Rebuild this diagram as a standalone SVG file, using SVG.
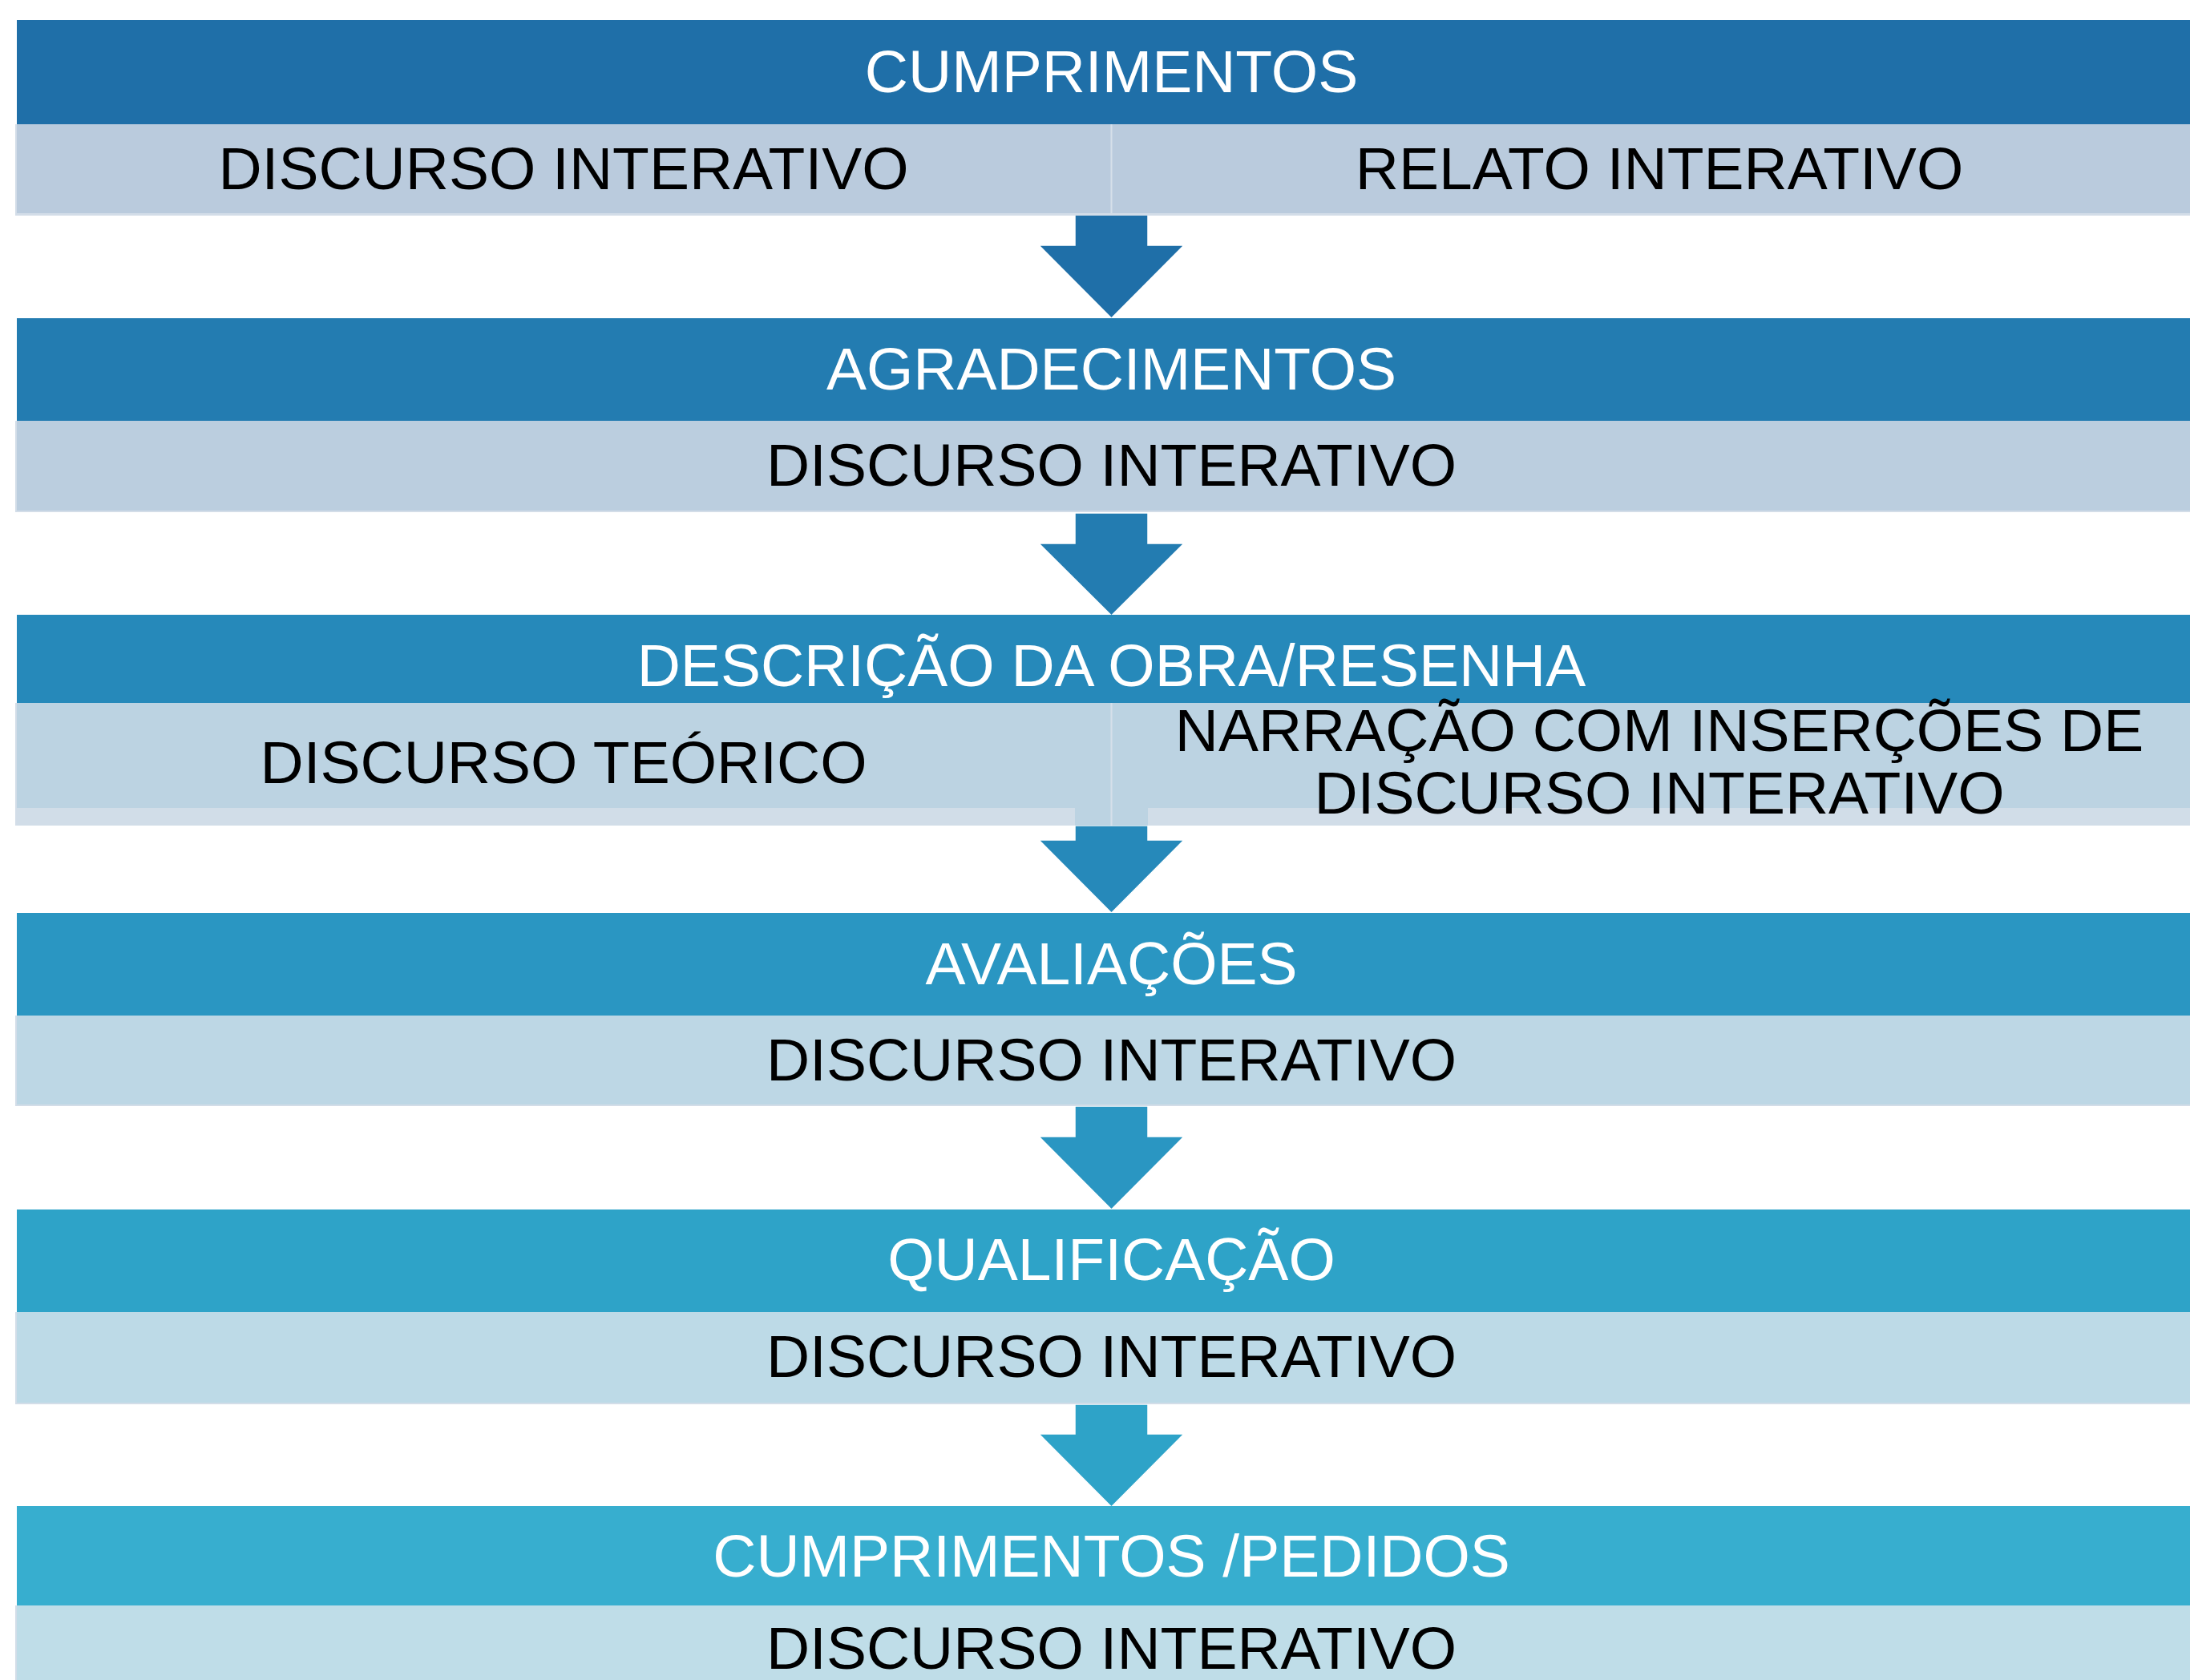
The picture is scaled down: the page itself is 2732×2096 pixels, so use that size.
<svg xmlns="http://www.w3.org/2000/svg" width="2732" height="2096" viewBox="0 0 2732 2096">
<style>
text{font-family:"Liberation Sans",Arial,sans-serif;font-size:75px;text-anchor:middle}
.h{fill:#ffffff}
.b{fill:#000000}
.div{stroke:#D6E0EA;stroke-width:2}
.arr{stroke:#ffffff;stroke-width:1.5}
.edge{fill:#D3DDE8}
</style>
<rect width="2732" height="2096" fill="#ffffff"/>
<g id="connectors">
<polygon class="arr" fill="#1F6FA8" points="1341,268 1432,268 1432,306 1477,306 1386.5,397 1296,306 1341,306"/>
<polygon class="arr" fill="#237CB1" points="1341,640 1432,640 1432,678 1477,678 1386.5,768 1296,678 1341,678"/>
<polygon class="arr" fill="#2689BA" points="1341,1030 1432,1030 1432,1048 1477,1048 1386.5,1139 1296,1048 1341,1048"/>
<polygon class="arr" fill="#2A96C2" points="1341,1380 1432,1380 1432,1418 1477,1418 1386.5,1509 1296,1418 1341,1418"/>
<polygon class="arr" fill="#2EA3C8" points="1341,1752 1432,1752 1432,1789 1477,1789 1386.5,1880 1296,1789 1341,1789"/>
</g>
<g id="node-cumprimentos">
<rect x="21" y="25" width="2740" height="130" fill="#1F6FA8"/>
<rect x="19" y="155" width="2742" height="111" fill="#BACBDD"/>
<rect class="edge" x="19" y="266" width="2742" height="3"/>
<rect class="edge" x="19" y="155" width="2" height="114"/>
<line class="div" x1="1386.5" y1="155" x2="1386.5" y2="266"/>
<text class="h" x="1386.5" y="115">CUMPRIMENTOS</text>
<text class="b" x="703" y="236">DISCURSO INTERATIVO</text>
<text class="b" x="2070" y="236">RELATO INTERATIVO</text>
</g>
<g id="node-agradecimentos">
<rect x="21" y="397" width="2740" height="128" fill="#237CB1"/>
<rect x="19" y="525" width="2742" height="113" fill="#BBCEDF"/>
<rect class="edge" x="19" y="637" width="2742" height="2"/>
<rect class="edge" x="19" y="525" width="2" height="114"/>
<text class="h" x="1386.5" y="486">AGRADECIMENTOS</text>
<text class="b" x="1386.5" y="606">DISCURSO INTERATIVO</text>
</g>
<g id="node-descricao">
<rect x="21" y="767" width="2740" height="110" fill="#2689BA"/>
<rect x="19" y="877" width="2742" height="153" fill="#BCD3E2"/>
<rect x="19" y="1008" width="1322" height="22" fill="#D1DDE8"/>
<rect x="1432" y="1008" width="1329" height="22" fill="#D1DDE8"/>
<rect class="edge" x="19" y="877" width="2" height="153"/>
<line class="div" x1="1386.5" y1="877" x2="1386.5" y2="1030"/>
<text class="h" x="1386.5" y="856">DESCRIÇÃO DA OBRA/RESENHA</text>
<text class="b" x="703" y="977">DISCURSO TEÓRICO</text>
<text class="b" x="2070" y="937">NARRAÇÃO COM INSERÇÕES DE</text>
<text class="b" x="2070" y="1015">DISCURSO INTERATIVO</text>
</g>
<g id="node-avaliacoes">
<rect x="21" y="1139" width="2740" height="128" fill="#2A96C2"/>
<rect x="19" y="1267" width="2742" height="112" fill="#BDD7E5"/>
<rect class="edge" x="19" y="1378" width="2742" height="2"/>
<rect class="edge" x="19" y="1267" width="2" height="113"/>
<text class="h" x="1386.5" y="1228">AVALIAÇÕES</text>
<text class="b" x="1386.5" y="1348">DISCURSO INTERATIVO</text>
</g>
<g id="node-qualificacao">
<rect x="21" y="1509" width="2740" height="128" fill="#2EA3C8"/>
<rect x="19" y="1637" width="2742" height="114" fill="#BDDAE7"/>
<rect class="edge" x="19" y="1750" width="2742" height="2"/>
<rect class="edge" x="19" y="1637" width="2" height="115"/>
<text class="h" x="1386.5" y="1597">QUALIFICAÇÃO</text>
<text class="b" x="1386.5" y="1718">DISCURSO INTERATIVO</text>
</g>
<g id="node-cumprimentos-pedidos">
<rect x="21" y="1879" width="2740" height="124" fill="#37AECF"/>
<rect x="19" y="2003" width="2742" height="100" fill="#BFDDE8"/>
<rect class="edge" x="19" y="2003" width="2" height="100"/>
<text class="h" x="1386.5" y="1967">CUMPRIMENTOS /PEDIDOS</text>
<text class="b" x="1386.5" y="2082">DISCURSO INTERATIVO</text>
</g>
</svg>
